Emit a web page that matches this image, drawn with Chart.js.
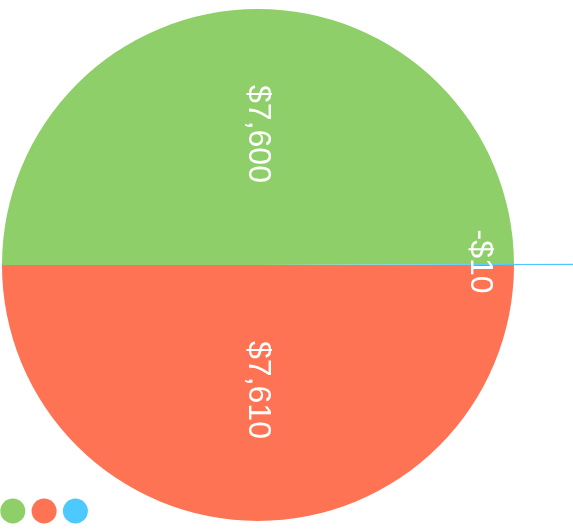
<!DOCTYPE html>
<html>
<head>
<meta charset="utf-8">
<script src="https://cdn.jsdelivr.net/npm/chart.js@4"></script>
<style>
  html, body { margin: 0; padding: 0; background: #fff; }
  #wrap { width: 573px; height: 529px; position: relative; }
</style>
</head>
<body>
<div id="wrap"><canvas id="pieChart"></canvas></div>
<script>
// --- Data (legend order) ---
const categories = ['Income', 'Expenses', 'Balance'];
const amounts = [7600, 7610, -10];
const sliceColors = ['#8ecf69', '#fd7354', '#4ec9fd'];

// slices are drawn green, blue, red so the tiny negative one sits at the right
const drawOrder = [0, 2, 1];

function formatMoney(v) {
  const s = '$' + Math.abs(v).toLocaleString('en-US');
  return v < 0 ? '-' + s : s;
}

// negative slices poke out past the rim (as in the original)
const negativeReach = {
  id: 'negativeReach',
  afterDatasetUpdate(chart, args) {
    const meta = args.meta;
    const values = chart.data.datasets[args.index].data;
    meta.data.forEach((arc, i) => {
      if (values[i] < 0) arc.outerRadius = arc.outerRadius * 1.73;
    });
  }
};

// --- Rotated value labels ---
const sliceLabels = {
  id: 'sliceLabels',
  afterDatasetsDraw(chart) {
    const ctx = chart.ctx;
    const meta = chart.getDatasetMeta(0);
    const values = chart.data.datasets[0].data;
    ctx.save();
    ctx.fillStyle = '#ffffff';
    ctx.font = '32px "Liberation Sans", Arial, sans-serif';
    ctx.textAlign = 'center';
    ctx.textBaseline = 'middle';
    meta.data.forEach((arc, i) => {
      const { x, y, startAngle, endAngle, innerRadius, outerRadius } = arc;
      const mid = (startAngle + endAngle) / 2;
      const r = (innerRadius + outerRadius) / 2;
      ctx.save();
      ctx.translate(x + Math.cos(mid) * r, y + Math.sin(mid) * r - 3);
      ctx.rotate(Math.PI / 2);
      ctx.fillText(formatMoney(values[i]), 0, 0);
      ctx.restore();
    });
    ctx.restore();
  }
};

// --- Dot legend, bottom left, no text ---
const dotLegend = {
  id: 'dotLegend',
  afterDraw(chart) {
    const ctx = chart.ctx;
    ctx.save();
    categories.forEach((c, i) => {
      ctx.beginPath();
      ctx.arc(12.8 + i * 31.3, 511, 12.5, 0, Math.PI * 2);
      ctx.fillStyle = sliceColors[i];
      ctx.fill();
    });
    ctx.restore();
  }
};

const pick = arr => drawOrder.map(i => arr[i]);

new Chart(document.getElementById('pieChart').getContext('2d'), {
  type: 'pie',
  data: {
    labels: pick(categories),
    datasets: [{
      data: pick(amounts),
      backgroundColor: pick(sliceColors),
      borderWidth: 0
    }]
  },
  options: {
    responsive: true,
    maintainAspectRatio: false,
    animation: false,
    devicePixelRatio: 1,
    rotation: -90,
    radius: 256,
    layout: { padding: { left: 2, top: 9, right: 59, bottom: 8 } },
    plugins: {
      legend: { display: false },
      tooltip: { enabled: false }
    }
  },
  plugins: [negativeReach, sliceLabels, dotLegend]
});
</script>
</body>
</html>
